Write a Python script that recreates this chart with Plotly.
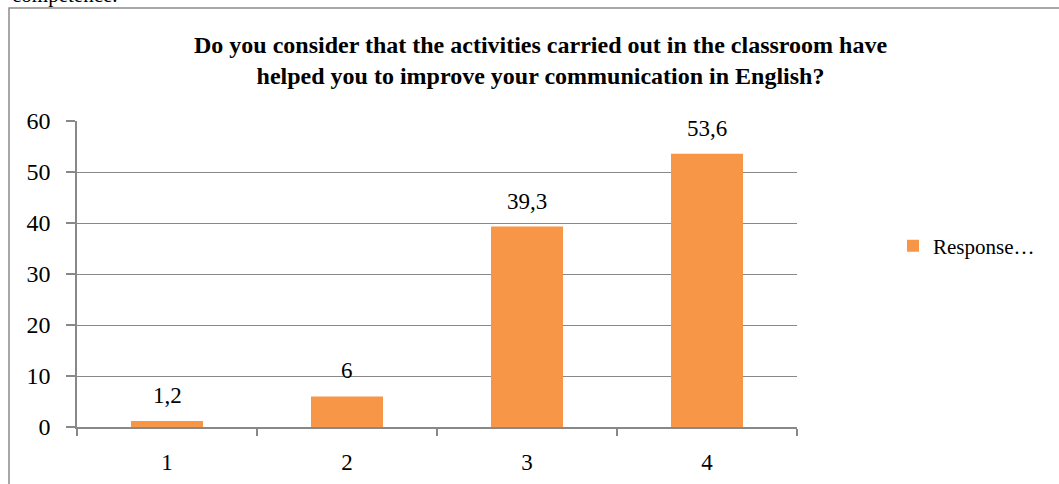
import plotly.graph_objects as go

categories = [1, 2, 3, 4]
values = [1.2, 6, 39.3, 53.6]
value_labels = ["1,2", "6", "39,3", "53,6"]
tick_labels = ["1", "2", "3", "4"]
y_ticks = [0, 10, 20, 30, 40, 50, 60]
series_name = "Response…"
title_text = ("Do you consider that the activities carried out in the classroom have<br>"
              "helped you to improve your communication in English?")

W, H = 1059, 484
L, R, T, B = 77, 262, 121, 57
pw, ph = W - L - R, H - T - B

def px_x(p):
    return (p - L) / pw

def px_y(p):
    return 1 - (p - T) / ph

serif = "Liberation Serif, Times New Roman, serif"
grid = "#888888"
orange = "#F79646"

fig = go.Figure()
fig.add_trace(go.Bar(
    x=categories, y=values, width=0.4, name=series_name,
    marker=dict(color=orange, line=dict(width=0)),
    showlegend=True,
))

for c, v, lab in zip(categories, values, value_labels):
    fig.add_annotation(x=c, y=v, text=lab, showarrow=False, xref="x", yref="y",
                       yanchor="bottom", yshift=11,
                       font=dict(family=serif, size=23, color="#000000"))

fig.add_annotation(x=px_x(540), y=px_y(60), xref="paper", yref="paper",
                   text="<b>" + title_text + "</b>", showarrow=False,
                   xanchor="center", yanchor="middle",
                   font=dict(family=serif, size=24, color="#000000"))

fig.add_annotation(x=px_x(10), y=px_y(9), xref="paper", yref="paper",
                   text="competence.", showarrow=False, xanchor="left", yanchor="bottom",
                   font=dict(family=serif, size=21, color="#000000"))

fig.add_shape(type="rect", xref="paper", yref="paper",
              x0=px_x(9), x1=px_x(1075), y0=px_y(8), y1=px_y(500),
              line=dict(color="#8c8c8c", width=1.5), fillcolor="rgba(0,0,0,0)", layer="below")

fig.update_layout(
    width=W, height=H, autosize=False,
    margin=dict(l=L, r=R, t=T, b=B, pad=0, autoexpand=False),
    paper_bgcolor="white", plot_bgcolor="white",
    font=dict(family=serif, size=22, color="#000000"),
    legend=dict(x=px_x(893), y=px_y(246), xanchor="left", yanchor="middle",
                font=dict(family=serif, size=21, color="#000000"),
                itemwidth=30, bgcolor="rgba(0,0,0,0)"),
    xaxis=dict(range=[0.5, 4.5], tickvals=categories, ticktext=tick_labels,
               ticks="", showgrid=False, showline=True, linecolor=grid, linewidth=1.5,
               zeroline=False, ticklabelstandoff=14, automargin=False,
               tickfont=dict(family=serif, size=23),
               minor=dict(ticks="outside", tick0=0.5, dtick=1, ticklen=7,
                          tickcolor=grid, tickwidth=1.5, showgrid=False)),
    yaxis=dict(range=[0, 60], tickvals=y_ticks, showgrid=True, gridcolor=grid, gridwidth=1.2,
               showline=True, linecolor=grid, linewidth=1.5, zeroline=False, automargin=False,
               ticks="outside", ticklen=9, tickcolor=grid, tickwidth=1.5,
               ticklabelstandoff=11, tickfont=dict(family=serif, size=24)),
)

fig.write_html("out.html", config={"displayModeBar": False},
               post_script="document.body.style.margin='0';document.body.style.overflow='hidden';")
